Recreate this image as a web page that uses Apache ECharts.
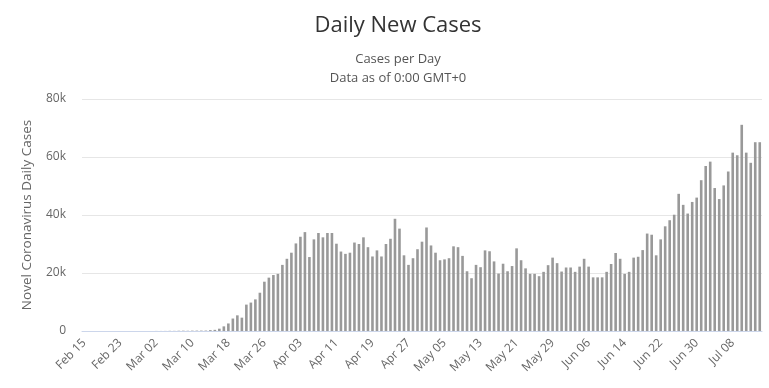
<!DOCTYPE html>
<html><head><meta charset="utf-8">
<script src="https://cdn.jsdelivr.net/npm/echarts@6/dist/echarts.min.js"></script>
<style>html,body{margin:0;padding:0;background:#fff}#c{width:769px;height:388px}</style>
</head><body><div id="c"></div>
<script>
const titleText = "Daily New Cases";
const subtitleLines = ["Cases per Day", "Data as of 0:00 GMT+0"];
const yAxisName = "Novel Coronavirus Daily Cases";
const yTicks = [0, 20000, 40000, 60000, 80000];

const categories = [
 "Feb 15","Feb 16","Feb 17","Feb 18","Feb 19","Feb 20","Feb 21","Feb 22","Feb 23","Feb 24","Feb 25","Feb 26","Feb 27","Feb 28","Feb 29",
 "Mar 01","Mar 02","Mar 03","Mar 04","Mar 05","Mar 06","Mar 07","Mar 08","Mar 09","Mar 10","Mar 11","Mar 12","Mar 13","Mar 14","Mar 15","Mar 16","Mar 17","Mar 18","Mar 19","Mar 20","Mar 21","Mar 22","Mar 23","Mar 24","Mar 25","Mar 26","Mar 27","Mar 28","Mar 29","Mar 30","Mar 31",
 "Apr 01","Apr 02","Apr 03","Apr 04","Apr 05","Apr 06","Apr 07","Apr 08","Apr 09","Apr 10","Apr 11","Apr 12","Apr 13","Apr 14","Apr 15","Apr 16","Apr 17","Apr 18","Apr 19","Apr 20","Apr 21","Apr 22","Apr 23","Apr 24","Apr 25","Apr 26","Apr 27","Apr 28","Apr 29","Apr 30",
 "May 01","May 02","May 03","May 04","May 05","May 06","May 07","May 08","May 09","May 10","May 11","May 12","May 13","May 14","May 15","May 16","May 17","May 18","May 19","May 20","May 21","May 22","May 23","May 24","May 25","May 26","May 27","May 28","May 29","May 30","May 31",
 "Jun 01","Jun 02","Jun 03","Jun 04","Jun 05","Jun 06","Jun 07","Jun 08","Jun 09","Jun 10","Jun 11","Jun 12","Jun 13","Jun 14","Jun 15","Jun 16","Jun 17","Jun 18","Jun 19","Jun 20","Jun 21","Jun 22","Jun 23","Jun 24","Jun 25","Jun 26","Jun 27","Jun 28","Jun 29","Jun 30",
 "Jul 01","Jul 02","Jul 03","Jul 04","Jul 05","Jul 06","Jul 07","Jul 08","Jul 09","Jul 10","Jul 11","Jul 12","Jul 13","Jul 14"
];

const dailyCases = [
 0,0,0,0,0,0,0,1,0,0,0,0,0,0,0,
 7,22,20,27,60,50,90,110,80,120,130,140,150,
 300,400,800,1600,2600,4300,5400,4600,9100,9800,10900,13200,17000,18400,19300,19700,22800,24900,27000,30200,32500,34100,
 25500,31600,33800,32300,33800,33800,30100,27400,26600,27000,30500,30000,32300,28900,25700,27800,25700,30000,31800,38700,35300,26100,22800,25100,28200,
 30800,35700,29500,27000,24400,24700,25100,29200,28900,25900,20600,18200,22800,22000,27800,27500,24000,19800,23200,20600,22400,28500,24400,21600,
 19700,19700,18900,20400,22700,25300,23400,20500,21900,21900,20400,22200,24900,22200,18500,18500,18500,20400,23100,26900,24900,19700,20400,25300,25600,27900,
 33600,33200,26100,31600,36100,38200,40100,47300,43500,40500,44500,46000,52000,56900,58400,49300,45500,50200,55000,61500,60600,71100,61500,58000,65100,65100
];

const FONT = "'Open Sans',sans-serif";
const chart = echarts.init(document.getElementById('c'));
chart.setOption({
  animation: false,
  backgroundColor: '#fff',
  title: [
    {text: titleText, left: 393, textAlign: 'center', top: 10, textStyle: {fontFamily: FONT, fontSize: 22, fontWeight: 'normal', color: '#333'}},
    {text: subtitleLines.join('\n'), left: 393, textAlign: 'center', top: 45, textStyle: {fontFamily: FONT, fontSize: 13, fontWeight: 'normal', color: '#555', lineHeight: 19}}
  ],
  grid: {left: 82, right: 7, top: 99, bottom: 57},
  xAxis: {
    type: 'category', data: categories,
    axisLine: {lineStyle: {color: '#ccd6eb'}},
    axisTick: {show: false},
    axisLabel: {interval: 7, rotate: 45, color: '#666', fontSize: 12, fontFamily: FONT, margin: 10}
  },
  yAxis: {
    type: 'value', min: yTicks[0], max: yTicks[yTicks.length-1], interval: yTicks[1]-yTicks[0],
    name: yAxisName, nameLocation: 'middle', nameGap: 48,
    nameTextStyle: {color: '#666', fontSize: 13.5, fontFamily: FONT},
    axisLine: {show: false}, axisTick: {show: false},
    splitLine: {lineStyle: {color: '#e6e6e6'}},
    axisLabel: {color: '#666', fontSize: 12, fontFamily: FONT, margin: 16,
      formatter: v => v === 0 ? '0' : (v/1000) + 'k'}
  },
  series: [{type: 'bar', data: dailyCases, barWidth: '58%', itemStyle: {color: '#999999'}}]
});
</script></body></html>
